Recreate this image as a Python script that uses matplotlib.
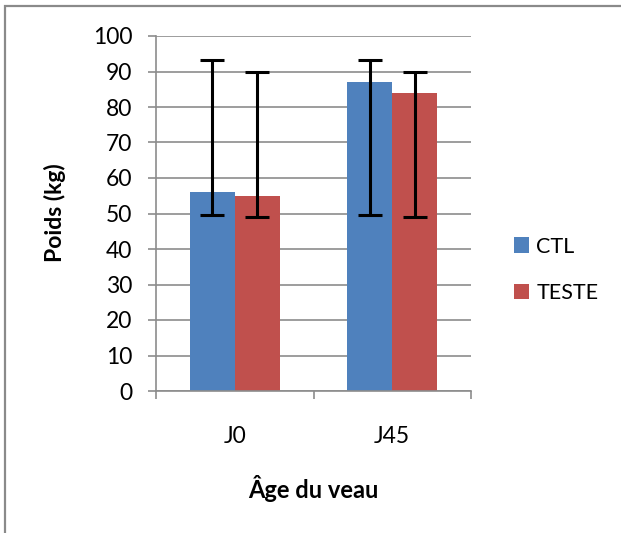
import matplotlib
matplotlib.use("Agg")
import matplotlib.pyplot as plt
import numpy as np
from matplotlib.patches import Rectangle, Patch
from matplotlib.ticker import FixedLocator

categories = ["J0", "J45"]
series_names = ["CTL", "TESTE"]
ctl_values = [56, 87]
teste_values = [55, 84]
ctl_err_low = [49.5, 49.5]
ctl_err_high = [93.3, 93.3]
teste_err_low = [49.0, 49.0]
teste_err_high = [90.0, 90.0]
y_ticks = [0, 10, 20, 30, 40, 50, 60, 70, 80, 90, 100]

colors = ["#4F81BD", "#C0504D"]
grid_gray = "#8C8C8C"

W, H = 621, 533
fig = plt.figure(figsize=(W / 100, H / 100), dpi=100)
plt.rcParams['font.family'] = ['Lato', 'DejaVu Sans']

# outer chart border (only left/top visible)
fig.patches.append(Rectangle((5 / W, -0.2), 1.5, 1.2 - 5.5 / H, transform=fig.transFigure,
                             fill=False, edgecolor="#8A8A8A", linewidth=1.6, clip_on=False))

left, right, top, bottom = 156, 471, 36, 391
ax = fig.add_axes([left / W, 1 - bottom / H, (right - left) / W, (bottom - top) / H])

x = np.arange(len(categories))
bw = 1 / 1.75 / 2
series = [ctl_values, teste_values]
lows = [ctl_err_low, teste_err_low]
highs = [ctl_err_high, teste_err_high]
for i, (vals, lo, hi) in enumerate(zip(series, lows, highs)):
    pos = x + (i - 0.5) * bw
    vals = np.array(vals, dtype=float)
    yerr = np.vstack([vals - np.array(lo), np.array(hi) - vals])
    ax.bar(pos, vals, width=bw, color=colors[i], zorder=2, label=series_names[i])
    ax.errorbar(pos, vals, yerr=yerr, fmt='none', ecolor='black', elinewidth=2.2,
                capsize=8.5, capthick=2.2, zorder=3)

ax.set_xlim(-0.5, len(categories) - 0.5)
ax.set_ylim(0, 100)
ax.set_yticks(y_ticks)
ax.yaxis.grid(True, color=grid_gray, linewidth=1.2, zorder=0)
ax.set_axisbelow(True)

ax.set_xticks(x)
ax.set_xticklabels(categories)
ax.xaxis.set_minor_locator(FixedLocator(np.arange(-0.5, len(categories), 1.0)))
ax.tick_params(axis='x', which='major', length=0, pad=25, labelsize=16.5)
ax.tick_params(axis='x', which='minor', length=6, width=1.2, color=grid_gray)
ax.tick_params(axis='y', which='major', length=6, width=1.2, color=grid_gray, pad=11, labelsize=16.5)

for s in ['top', 'right']:
    ax.spines[s].set_visible(False)
for s in ['left', 'bottom']:
    ax.spines[s].set_color(grid_gray)
    ax.spines[s].set_linewidth(1.2)

fig.text(313 / W, 1 - 489 / H, "Âge du veau", ha='center', va='center', fontsize=17, fontweight='bold')
fig.text(55 / W, 1 - 213 / H, "Poids (kg)", ha='center', va='center', rotation=90, fontsize=16.5, fontweight='bold')

handles = [Patch(facecolor=c) for c in colors]
fig.legend(handles, series_names, loc='center left', bbox_to_anchor=(505 / W, 1 - 270 / H),
           frameon=False, fontsize=15.5, handlelength=0.7, handleheight=0.7,
           handletextpad=0.35, labelspacing=1.25, borderaxespad=0)

fig.savefig("out.png", dpi=100, facecolor='white')
